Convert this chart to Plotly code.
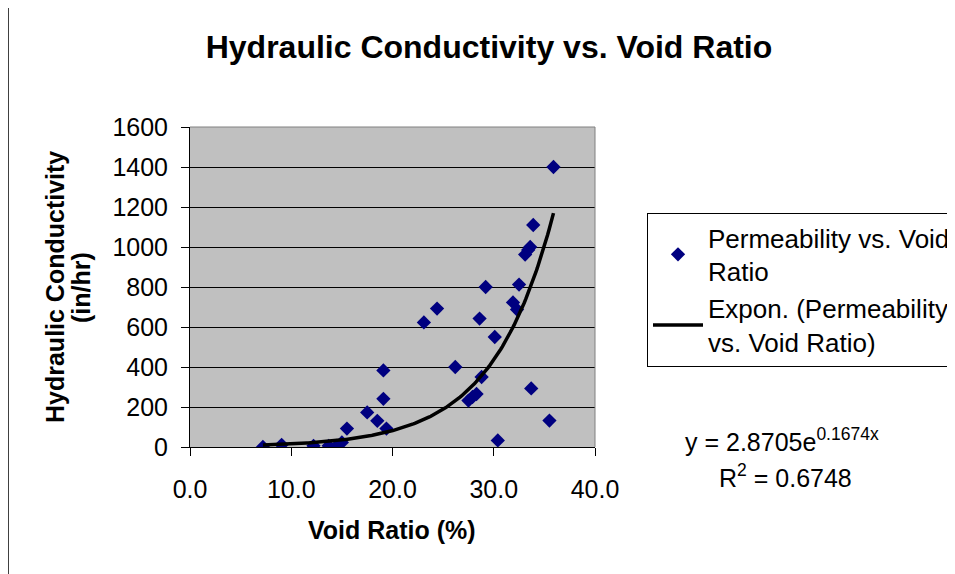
import numpy as np
import plotly.graph_objects as go

# Data
void_ratio = [7.2, 9.05, 12.2, 13.7, 14.5, 15.0, 15.5, 17.5, 18.5, 19.1, 19.1, 19.4,
              23.1, 24.4, 26.2, 27.5, 27.9, 28.3, 28.6, 28.8, 29.2, 30.1, 30.4,
              31.9, 32.3, 32.5, 33.1, 33.4, 33.6, 33.9, 33.7, 35.5, 35.9]
conductivity = [0, 11, 6, 6, 6, 23, 92, 173, 131, 383, 241, 92,
                623, 692, 400, 232, 250, 265, 642, 350, 800, 550, 33,
                723, 687, 812, 962, 985, 1000, 1110, 293, 132, 1400]

# Exponential trendline coefficients as displayed on the chart
fit_a = 2.8705
fit_b = 0.1674
x_ticks = [0, 10, 20, 30, 40]
x_tick_labels = ["0.0", "10.0", "20.0", "30.0", "40.0"]
y_ticks = [0, 200, 400, 600, 800, 1000, 1200, 1400, 1600]

FONT = "Arial, Liberation Sans, sans-serif"

xs = np.linspace(min(void_ratio), max(void_ratio), 200)
ys = fit_a * np.exp(fit_b * xs)

fig = go.Figure()
fig.add_trace(go.Scatter(
    x=void_ratio, y=conductivity, mode="markers",
    name="Permeability vs. Void<br>Ratio",
    marker=dict(symbol="diamond", size=11, color="#000080"),
))
fig.add_trace(go.Scatter(
    x=xs, y=ys, mode="lines",
    name="Expon. (Permeability<br>vs. Void Ratio)",
    line=dict(color="black", width=3.5),
))

# page has an 8px body margin; work in screenshot pixels and shift
OFF = 8
W, H = 955 - OFF, 574 - OFF
L, R, T, B = 190 - OFF, 595 - OFF, 127 - OFF, 447 - OFF

def px(xp):
    return (xp - OFF - L) / (R - L)

def py(yp):
    return (B - (yp - OFF)) / (B - T)

fig.update_layout(
    width=W, height=H,
    margin=dict(l=L, r=W - R, t=T, b=H - B, autoexpand=False),
    paper_bgcolor="white",
    plot_bgcolor="#C0C0C0",
    font=dict(family=FONT, size=25, color="black"),
    title=dict(text="<b>Hydraulic Conductivity vs. Void Ratio</b>",
               x=(489 - OFF) / W, y=1 - (47 - OFF) / H,
               xanchor="center", yanchor="middle",
               font=dict(size=32, family=FONT, color="black")),
    showlegend=True,
    legend=dict(x=px(647), y=py(213), xanchor="left", yanchor="top",
                bordercolor="black", borderwidth=1, bgcolor="white",
                font=dict(size=26, family=FONT), itemwidth=50,
                tracegroupgap=4),
    xaxis=dict(range=[0, 40], tickvals=x_ticks, ticktext=x_tick_labels,
               showgrid=False, zeroline=False, showline=True,
               linecolor="black", linewidth=1, ticks="outside", ticklen=8,
               tickcolor="black", ticklabelstandoff=12,
               tickfont=dict(size=25, family=FONT)),
    yaxis=dict(range=[0, 1600], tickvals=y_ticks,
               showgrid=True, gridcolor="black", gridwidth=1,
               zeroline=False, showline=True, linecolor="black", linewidth=1,
               ticks="outside", ticklen=8, tickcolor="black",
               ticklabelstandoff=8,
               tickfont=dict(size=25, family=FONT)),
    shapes=[
        dict(type="line", xref="paper", yref="paper", x0=0, x1=1, y0=1, y1=1,
             line=dict(color="#808080", width=1)),
        dict(type="line", xref="paper", yref="paper", x0=1, x1=1, y0=0, y1=1,
             line=dict(color="#808080", width=1)),
        dict(type="rect", xref="paper", yref="paper",
             x0=px(8), x1=px(1200), y0=py(800), y1=py(5),
             line=dict(color="#404040", width=2), layer="below"),
    ],
    annotations=[
        dict(text="<b>Hydraulic Conductivity</b>", textangle=-90,
             xref="paper", yref="paper", x=px(55), y=py(287),
             xanchor="center", yanchor="middle", showarrow=False,
             font=dict(size=25, family=FONT)),
        dict(text="<b>(in/hr)</b>", textangle=-90,
             xref="paper", yref="paper", x=px(81), y=py(287),
             xanchor="center", yanchor="middle", showarrow=False,
             font=dict(size=25, family=FONT)),
        dict(text="<b>Void Ratio (%)</b>", xref="paper", yref="paper",
             x=px(392), y=py(530), xanchor="center", yanchor="middle",
             showarrow=False, font=dict(size=25, family=FONT)),
        dict(text="y = 2.8705e<sup>0.1674x</sup>", xref="paper", yref="paper",
             x=px(683), y=py(440), xanchor="left", yanchor="middle",
             showarrow=False, font=dict(size=25, family=FONT)),
        dict(text="R<sup>2</sup> = 0.6748", xref="paper", yref="paper",
             x=px(785), y=py(476), xanchor="center", yanchor="middle",
             showarrow=False, font=dict(size=25, family=FONT)),
    ],
)

fig.write_html("out.html")
